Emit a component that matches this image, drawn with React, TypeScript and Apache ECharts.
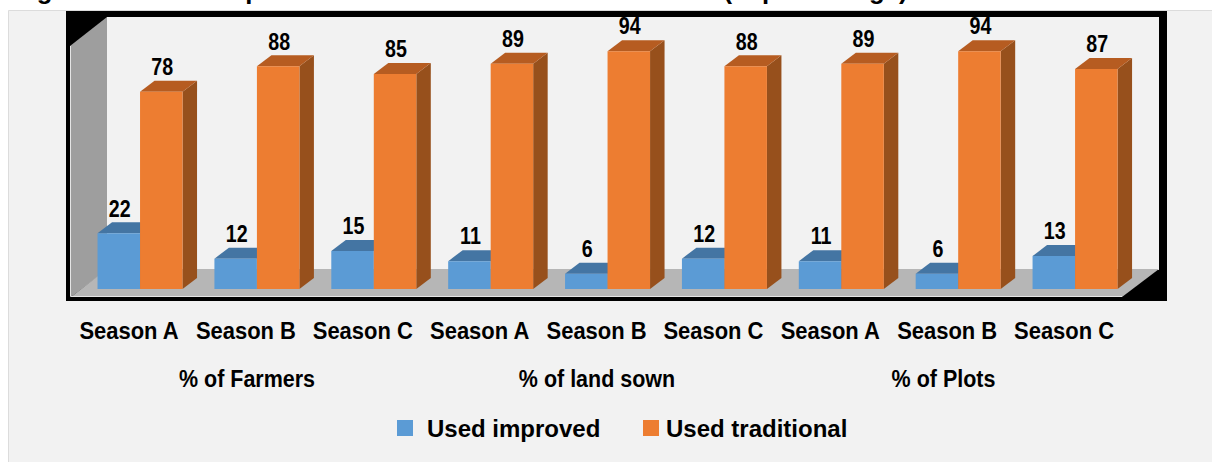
import React, { useEffect, useRef } from "react";
import * as echarts from "echarts";

const titleText = "Figure 6: Use of Improved and traditional seed in Rwanda (in percentage)";
const seasons = ["Season A", "Season B", "Season C", "Season A", "Season B", "Season C", "Season A", "Season B", "Season C"];
const improved = [22, 12, 15, 11, 6, 12, 11, 6, 13];
const traditional = [78, 88, 85, 89, 94, 88, 89, 94, 87];
const groups = ["% of Farmers", "% of land sown", "% of Plots"];
const groupCenters = [247, 597, 943.5];

const FONT = '"Liberation Sans", Arial, sans-serif';
const BAR_W = 42.5;
const DX = 14.5;
const DY = 11;

function bar3d(side: number, front: string, top: string, right: string) {
  return (params: any, api: any) => {
    const cat = api.value(0);
    const val = api.value(1);
    const p = api.coord([cat, val]);
    const base = api.coord([cat, 0]);
    const x0 = side < 0 ? p[0] - BAR_W : p[0];
    const x1 = x0 + BAR_W;
    const y0 = p[1];
    const y1 = base[1];
    return {
      type: "group",
      children: [
        { type: "polygon", shape: { points: [[x1, y0], [x1 + DX, y0 - DY], [x1 + DX, y1 - DY], [x1, y1]] }, style: { fill: right } },
        { type: "polygon", shape: { points: [[x0, y0], [x0 + DX, y0 - DY], [x1 + DX, y0 - DY], [x1, y0]] }, style: { fill: top } },
        { type: "rect", shape: { x: x0, y: y0, width: BAR_W, height: y1 - y0 }, style: { fill: front } },
        {
          type: "text",
          x: (x0 + x1) / 2 + 1,
          y: y0 - 13,
          scaleX: 0.82,
          style: {
            text: String(val),
            x: 0,
            y: 0,
            align: "center",
            verticalAlign: "bottom",
            fill: "#000",
            font: `bold 24px ${FONT}`,
          },
        },
      ],
    };
  };
}

function seasonLabel(params: any, api: any) {
  const cat = api.value(0);
  const base = api.coord([cat, 0]);
  return {
    type: "text",
    x: base[0] - 11,
    y: 331,
    scaleX: 0.915,
    style: {
      text: seasons[cat],
      x: 0,
      y: 0,
      align: "center",
      verticalAlign: "middle",
      fill: "#000",
      font: `bold 24px ${FONT}`,
    },
  };
}

export default function App() {
  const ref = useRef<HTMLDivElement>(null);
  useEffect(() => {
    document.body.style.margin = "0";
    const chart = echarts.init(ref.current!, null, { renderer: "svg" });
    chart.setOption({
      animation: false,
      backgroundColor: "#ffffff",
      grid: { left: 81.6, width: 1051.9, top: 36, height: 253 },
      xAxis: {
        type: "category",
        data: seasons.map((s, i) => `${s}-${i}`),
        axisLine: { show: false },
        axisTick: { show: false },
        splitLine: { show: false },
        axisLabel: { show: false },
      },
      yAxis: { type: "value", min: 0, max: 100, show: false },
      legend: [
        {
          left: 397,
          top: 416,
          padding: 0,
          data: ["Used improved"],
          icon: "rect",
          itemWidth: 16,
          itemHeight: 16,
          selectedMode: false,
          textStyle: { fontFamily: FONT, fontWeight: "bold", fontSize: 24, color: "#000", padding: [0, 0, 0, 9] },
        },
        {
          left: 643,
          top: 416,
          padding: 0,
          data: ["Used traditional"],
          icon: "rect",
          itemWidth: 16,
          itemHeight: 16,
          selectedMode: false,
          textStyle: { fontFamily: FONT, fontWeight: "bold", fontSize: 24, color: "#000", padding: [0, 0, 0, 2] },
        },
      ],
      series: [
        {
          type: "custom",
          name: "Used improved",
          z: 10,
          color: "#5b9bd5",
          renderItem: bar3d(-1, "#5b9bd5", "#4475a3", "#3f6c97"),
          encode: { x: 0, y: 1 },
          data: improved.map((v, i) => [i, v]),
        },
        {
          type: "custom",
          name: "Used traditional",
          z: 11,
          color: "#ed7d31",
          renderItem: bar3d(1, "#ed7d31", "#b65c21", "#97501c"),
          encode: { x: 0, y: 1 },
          data: traditional.map((v, i) => [i, v]),
        },
        {
          type: "custom",
          name: "Seasons",
          z: 12,
          clip: false,
          silent: true,
          renderItem: seasonLabel,
          encode: { x: 0, y: 1 },
          data: seasons.map((s, i) => [i, 0]),
        },
      ],
      graphic: [
        { type: "rect", z: -10, silent: true, shape: { x: 8.5, y: 10.5, width: 1210, height: 460 }, style: { fill: "#f2f2f2", stroke: "#dcdcdc", lineWidth: 1 } },
        { type: "rect", z: -9, silent: true, shape: { x: 66, y: 11, width: 1101, height: 290 }, style: { fill: "#000" } },
        { type: "rect", z: -8, silent: true, shape: { x: 107, y: 17, width: 1052, height: 253 }, style: { fill: "#f2f2f2" } },
        { type: "polygon", z: -8, silent: true, shape: { points: [[70, 46], [107, 17], [107, 270], [71, 297]] }, style: { fill: "#9e9e9e" } },
        { type: "polygon", z: -8, silent: true, shape: { points: [[107, 269], [1159, 269], [1122, 297], [71, 297]] }, style: { fill: "#b6b6b6" } },
        { type: "polyline", z: -7, silent: true, shape: { points: [[70.5, 46], [70.5, 296.5], [1122, 296.5]] }, style: { fill: "none", stroke: "#e4e4e4", lineWidth: 1 } },
        {
          type: "text",
          z: -5,
          silent: true,
          style: { text: titleText, x: 14, y: 3, verticalAlign: "bottom", fill: "#000", font: `bold 25.7px ${FONT}` },
        },
        ...groups.map((g, i) => ({
          type: "text",
          z: -5,
          silent: true,
          x: groupCenters[i],
          y: 379,
          scaleX: 0.895,
          style: { text: g, x: 0, y: 0, align: "center", verticalAlign: "middle", fill: "#000", font: `bold 24px ${FONT}` },
        })),
      ],
    });
    return () => chart.dispose();
  }, []);
  return <div ref={ref} style={{ width: 1212, height: 462 }} />;
}
